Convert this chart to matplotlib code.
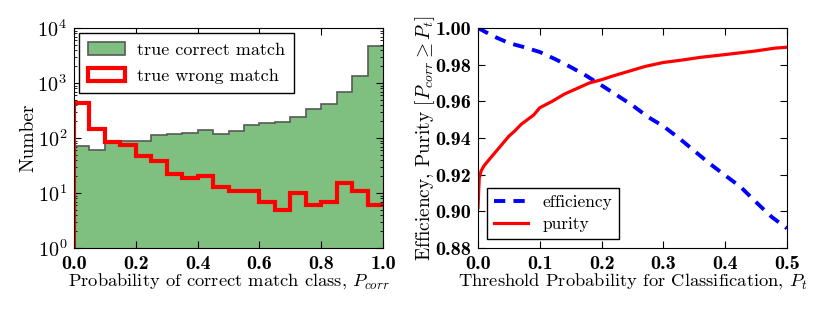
import numpy as np
import matplotlib
matplotlib.use('Agg')
import matplotlib.pyplot as plt
from matplotlib.patches import Patch
from matplotlib.ticker import FuncFormatter, FormatStrFormatter

plt.rcParams['font.family'] = 'cmr10'
plt.rcParams['mathtext.fontset'] = 'cm'
plt.rcParams['axes.unicode_minus'] = False

# histogram (20 bins of 0.05 in P_corr)
bin_edges = np.linspace(0.0, 1.0, 21)
n_correct = [72, 61, 85, 87, 90, 115, 120, 125, 142, 120,
             132, 175, 185, 192, 240, 340, 420, 690, 1320, 4650]
n_wrong = [440, 145, 83, 76, 48, 38, 22, 19, 20, 13,
           11, 11, 7, 5, 10, 6, 7, 15, 11, 6]

# efficiency / purity vs threshold
pt_eff = [0.0, 0.025, 0.05, 0.075, 0.1, 0.125, 0.15, 0.175, 0.2, 0.225, 0.25,
          0.275, 0.3, 0.325, 0.35, 0.375, 0.4, 0.425, 0.45, 0.475, 0.5]
efficiency = [1.0, 0.9955, 0.9918, 0.9895, 0.9869, 0.983, 0.9787, 0.974,
              0.9687, 0.9633, 0.9578, 0.9515, 0.9464, 0.940, 0.933, 0.926,
              0.9196, 0.9133, 0.905, 0.897, 0.8907]
pt_pur = [0.0, 0.002, 0.005, 0.01, 0.02, 0.03, 0.04, 0.05, 0.06, 0.07, 0.08,
          0.09, 0.1, 0.12, 0.14, 0.16, 0.18, 0.2, 0.22, 0.25, 0.27, 0.3,
          0.33, 0.36, 0.4, 0.45, 0.48, 0.5]
purity = [0.902, 0.918, 0.922, 0.925, 0.929, 0.933, 0.937, 0.941, 0.944,
          0.9475, 0.950, 0.9525, 0.9565, 0.960, 0.964, 0.967, 0.970, 0.9718,
          0.974, 0.977, 0.979, 0.9812, 0.9825, 0.984, 0.9855, 0.9875, 0.989,
          0.9895]

fig = plt.figure(figsize=(8.3, 3.12), dpi=100)
ax1 = fig.add_axes([74 / 830, 1 - 248 / 312, 309 / 830, 220 / 312])
ax2 = fig.add_axes([478 / 830, 1 - 248 / 312, 309 / 830, 220 / 312])

ax1.stairs(n_correct, bin_edges, baseline=1, fill=True,
           facecolor=(0.0, 0.5, 0.0, 0.5), edgecolor='none')
ax1.stairs(n_correct, bin_edges, baseline=None, color='0.35', lw=1.2)
# wrong-match outline: rising edge at 0, no drop at 1.0
ax1.stairs(n_wrong, bin_edges, baseline=None, color='red', lw=3)
ax1.plot([bin_edges[0], bin_edges[0]], [1, n_wrong[0]], color='red', lw=3)
ax1.set_yscale('log')
ax1.set_ylim(1, 1e4)
ax1.set_xlim(0, 1)
ax1.yaxis.set_major_formatter(FuncFormatter(lambda v, p: r'$\mathbf{10^{%d}}$' % round(np.log10(v))))
ax1.xaxis.set_major_formatter(FormatStrFormatter('%.1f'))
ax1.set_xlabel(r'Probability of correct match class, $P_{corr}$', fontsize=13.3, labelpad=-1)
ax1.set_ylabel('Number', fontsize=14, labelpad=0)
handles = [Patch(facecolor=(0.0, 0.5, 0.0, 0.5), edgecolor='0.35', lw=1.2),
           Patch(facecolor='white', edgecolor='red', lw=3)]
ax1.legend(handles, ['true correct match', 'true wrong match'], loc='upper left',
           fontsize=13, fancybox=False, edgecolor='black', framealpha=1,
           handlelength=2.0, handletextpad=0.7, borderpad=0.5, labelspacing=0.55,
           borderaxespad=0.3)

ax2.plot(pt_eff, efficiency, '--', color='blue', lw=2.8, dashes=(2.9, 2.1),
         label='efficiency')
ax2.plot(pt_pur, purity, '-', color='red', lw=2.3, label='purity')
ax2.set_xlim(0, 0.5)
ax2.set_ylim(0.88, 1.0)
ax2.set_xticks([0, 0.1, 0.2, 0.3, 0.4, 0.5])
ax2.set_yticks([0.88, 0.90, 0.92, 0.94, 0.96, 0.98, 1.00])
ax2.xaxis.set_major_formatter(FormatStrFormatter('%.1f'))
ax2.yaxis.set_major_formatter(FormatStrFormatter('%.2f'))
ax2.set_xlabel(r'Threshold Probability for Classification, $P_t$', fontsize=13.3, labelpad=-1)
ax2.set_ylabel(r'Efficiency, Purity $[P_{corr} \geq P_t]$', fontsize=14, labelpad=-1)
ax2.legend(loc='lower left', fontsize=12.5, fancybox=False, edgecolor='black',
           framealpha=1, handlelength=2.0, borderpad=0.4, labelspacing=0.4,
           borderaxespad=0.5)

for ax in (ax1, ax2):
    ax.tick_params(which='both', direction='in', top=True, right=True)
    ax.tick_params(which='major', length=5, pad=5)
    ax.tick_params(which='minor', length=2.5)
    for lab in ax.get_xticklabels() + ax.get_yticklabels():
        lab.set_fontfamily('cmb10')
        lab.set_fontsize(14.5)

fig.savefig('out.png', dpi=100)
